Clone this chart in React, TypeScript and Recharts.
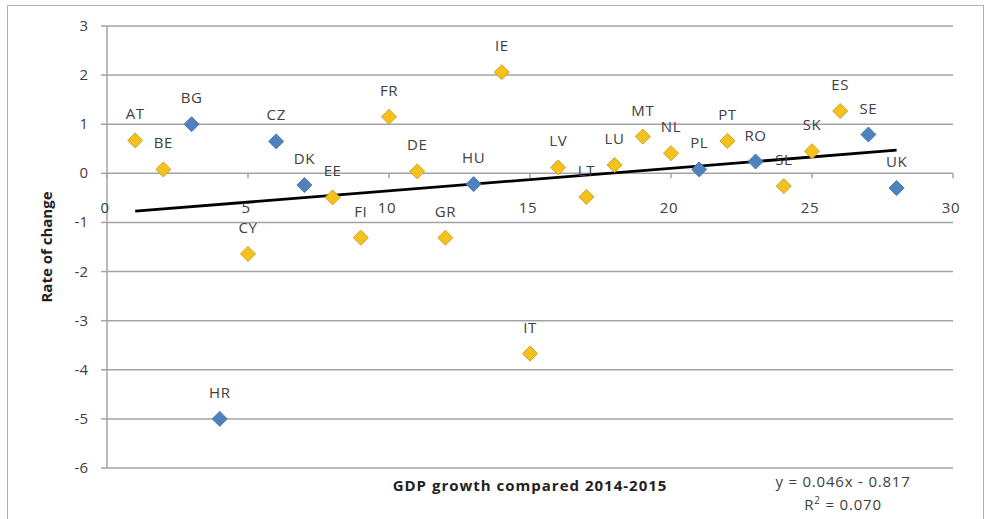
import React from 'react';
import {
  ScatterChart,
  Scatter,
  XAxis,
  YAxis,
  CartesianGrid,
  ReferenceLine,
} from 'recharts';

// Country codes in x order (1..28)
const countries = [
  'AT', 'BE', 'BG', 'HR', 'CY', 'CZ', 'DK', 'EE', 'FI', 'FR', 'DE', 'GR', 'HU', 'IE',
  'IT', 'LV', 'LT', 'LU', 'MT', 'NL', 'PL', 'PT', 'RO', 'SL', 'SK', 'ES', 'SE', 'UK',
];

// Rate of change per country
const rates = [
  0.67, 0.08, 1.0, -5.0, -1.64, 0.65, -0.24, -0.49, -1.31, 1.15, 0.04, -1.31, -0.22, 2.06,
  -3.67, 0.12, -0.48, 0.17, 0.75, 0.41, 0.08, 0.66, 0.24, -0.26, 0.45, 1.27, 0.79, -0.3,
];

// Countries outside the euro area (drawn blue)
const nonEuro = ['BG', 'HR', 'CZ', 'DK', 'HU', 'PL', 'RO', 'SE', 'UK'];

const xTicks = [0, 5, 10, 15, 20, 25, 30];
const yTicks = [-6, -5, -4, -3, -2, -1, 0, 1, 2, 3];

// Linear trend
const trend = { slope: 0.046, intercept: -0.817, r2: '0.070', from: 1, to: 28 };

const points = countries.map((code, i) => ({ x: i + 1, y: rates[i], code }));
const euroPoints = points.filter((p) => !nonEuro.includes(p.code));
const otherPoints = points.filter((p) => nonEuro.includes(p.code));
const axisTickPoints = xTicks.map((t) => ({ x: t, y: 0 }));

const FONT = '"Open Sans", "Liberation Sans", Arial, sans-serif';
const GRID = '#a3a3a3';
const TEXT = '#404040';

const makeDiamond = (fill: string, stroke: string) => (props: any) => {
  const { cx, cy, payload } = props;
  const r = 7.5;
  return (
    <g>
      <polygon
        points={`${cx},${cy - r} ${cx + r},${cy} ${cx},${cy + r} ${cx - r},${cy}`}
        fill={fill}
        stroke={stroke}
        strokeWidth={1}
      />
      <text
        x={cx}
        y={cy - 21}
        textAnchor="middle"
        fontSize={15}
        letterSpacing={0.6}
        fontFamily={FONT}
        fill={TEXT}
      >
        {payload.code}
      </text>
    </g>
  );
};

// x axis drawn along y = 0, labels sit below the line
const AxisTick = (props: any) => {
  const { cx, cy, payload } = props;
  return (
    <g>
      <line x1={cx} y1={cy} x2={cx} y2={cy + 5} stroke={GRID} strokeWidth={1.5} />
      <text
        x={cx - 2}
        y={cy + 40}
        textAnchor="middle"
        fontSize={15}
        letterSpacing={0.6}
        fontFamily={FONT}
        fill={TEXT}
      >
        {payload.x}
      </text>
    </g>
  );
};

const yTick = (props: any) => {
  const { x, y, payload } = props;
  return (
    <text x={x - 11} y={y + 5} textAnchor="end" fontSize={15} fontFamily={FONT} fill={TEXT}>
      {payload.value}
    </text>
  );
};

export default function App() {
  return (
    <div style={{ position: 'absolute', left: 0, top: 0, width: 987, height: 519, background: '#fff' }}>
      <div
        style={{
          position: 'absolute',
          left: 7,
          top: 5,
          width: 977,
          height: 520,
          border: '1px solid #b0b0b0',
          boxSizing: 'border-box',
        }}
      />
      <ScatterChart
        width={987}
        height={519}
        margin={{ top: 26, right: 34, bottom: 0, left: 0 }}
        style={{ position: 'absolute', left: 0, top: 0 }}
      >
        <CartesianGrid vertical={false} stroke={GRID} strokeWidth={1.5} />
        <XAxis
          type="number"
          dataKey="x"
          domain={[0, 30]}
          ticks={xTicks}
          height={51}
          axisLine={false}
          tickLine={false}
          tick={false}
          label={{
            value: 'GDP growth compared 2014-2015',
            position: 'insideTop',
            offset: 12,
            style: {
              fontFamily: FONT,
              fontSize: 15,
              fontWeight: 700,
              letterSpacing: 1,
              fill: '#222',
            },
          }}
        />
        <YAxis
          type="number"
          dataKey="y"
          domain={[-6, 3]}
          ticks={yTicks}
          width={107}
          axisLine={{ stroke: GRID, strokeWidth: 1.5 }}
          tickLine={{ stroke: GRID, strokeWidth: 1.5 }}
          tickSize={6}
          tick={yTick}
          label={{
            value: 'Rate of change',
            angle: -90,
            position: 'insideLeft',
            offset: 47,
            style: {
              textAnchor: 'middle',
              fontFamily: FONT,
              fontSize: 15,
              fontWeight: 700,
              fill: '#222',
            },
          }}
        />
        <ReferenceLine
          segment={[
            { x: trend.from, y: trend.slope * trend.from + trend.intercept },
            { x: trend.to, y: trend.slope * trend.to + trend.intercept },
          ]}
          stroke="#000"
          strokeWidth={2.8}
        />
        <Scatter data={axisTickPoints} shape={AxisTick} isAnimationActive={false} />
        <Scatter data={otherPoints} shape={makeDiamond('#4f81bd', '#4a7ab3')} isAnimationActive={false} />
        <Scatter data={euroPoints} shape={makeDiamond('#f5c21c', '#c9a331')} isAnimationActive={false} />
      </ScatterChart>
      <div
        style={{
          position: 'absolute',
          left: 743,
          top: 470,
          width: 200,
          textAlign: 'center',
          fontFamily: FONT,
          fontSize: 15,
          letterSpacing: 0.8,
          lineHeight: '23px',
          color: TEXT,
        }}
      >
        <div>{`y = ${trend.slope}x - ${Math.abs(trend.intercept)}`}</div>
        <div>
          R<sup style={{ fontSize: 10, lineHeight: 0 }}>2</sup> = {trend.r2}
        </div>
      </div>
    </div>
  );
}
